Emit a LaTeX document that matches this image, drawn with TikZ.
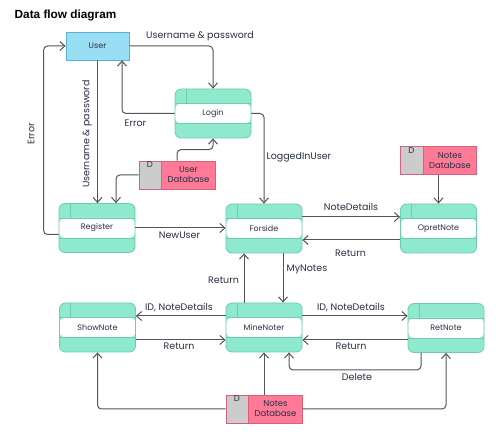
\documentclass[tikz,border=0pt]{standalone}
\usepackage{fontspec}
\setmainfont{Poppins}
\newfontfamily\titlefont{Liberation Sans}
\usetikzlibrary{arrows.meta,calc}
\definecolor{mint}{RGB}{142,233,206}
\definecolor{mintdark}{RGB}{108,205,172}
\definecolor{pinkdb}{RGB}{255,122,150}
\definecolor{pinkdark}{RGB}{214,96,126}
\definecolor{graydb}{RGB}{204,204,204}
\definecolor{userfill}{RGB}{154,222,246}
\definecolor{userdark}{RGB}{88,178,212}
\definecolor{flowcol}{RGB}{85,85,85}
\definecolor{txt}{RGB}{40,48,68}
\tikzset{
  proc/.style={draw=mintdark, fill=mint, rounded corners=6pt, minimum width=76pt,
    minimum height=49pt, inner sep=0pt, line width=0.8pt, text=txt,
    font=\fontsize{8}{9}\selectfont,
    path picture={
      \fill[white] ([yshift=-14.5pt]path picture bounding box.north west) rectangle ([yshift=14.5pt]path picture bounding box.south east);
      \draw[mintdark, line width=0.8pt] ([yshift=-14.5pt]path picture bounding box.north west) -- ([yshift=-14.5pt]path picture bounding box.north east);
      \draw[mintdark, line width=0.8pt] ([yshift=14.5pt]path picture bounding box.south west) -- ([yshift=14.5pt]path picture bounding box.south east);
      \draw[mintdark, line width=0.8pt] ([xshift=11pt]path picture bounding box.north west) -- ([xshift=11pt,yshift=-14.5pt]path picture bounding box.north west);
    }},
  db/.style={draw=pinkdark, fill=pinkdb, minimum width=76pt, minimum height=28pt,
    inner sep=0pt, line width=0.8pt,
    path picture={
      \fill[graydb] (path picture bounding box.north west) rectangle ([xshift=22.5pt]path picture bounding box.south west);
      \draw[pinkdark, line width=0.8pt] ([xshift=22.5pt]path picture bounding box.north west) -- ([xshift=22.5pt]path picture bounding box.south west);
    }},
  dbtext/.style={align=center, text=txt, font=\fontsize{8.5}{10}\selectfont, inner sep=0pt},
  dletter/.style={anchor=north, text=txt, font=\fontsize{8.5}{10}\selectfont, inner sep=1pt},
  ent/.style={draw=userdark, fill=userfill, minimum width=63pt, minimum height=28pt,
    inner sep=0pt, line width=0.8pt, text=txt, font=\fontsize{8}{9}\selectfont},
  flow/.style={draw=flowcol, line width=1pt, rounded corners=4pt,
    -{Straight Barb[length=5pt,width=9pt]}},
  lbl/.style={text=txt, font=\fontsize{9.5}{11}\selectfont, inner sep=0pt},
}
\begin{document}
\begin{tikzpicture}[x=1pt,y=-1pt]
\useasboundingbox[fill=white] (0,0) rectangle (501,438);
\node[anchor=west, inner sep=0pt, font=\titlefont\bfseries\fontsize{11.8}{13}\selectfont, text=black] (title) at (14.5,15) {Data flow diagram};

% nodes
\node[ent] (user) at (97.5,46) {User};
\node[proc] (login) at (213,113.5) {Login};
\node[db, label={[dbtext,xshift=11.5pt]center:User\\Database}, label={[dletter,xshift=11.25pt]north west:D}] (udb) at (177,175) {};
\node[db, label={[dbtext,xshift=11.5pt]center:Notes\\Database}, label={[dletter,xshift=11.25pt]north west:D}] (ndbtop) at (438.5,160.5) {};
\node[proc] (register) at (97,228) {Register};
\node[proc] (forside) at (264,228.5) {Forside};
\node[proc] (opret) at (438.5,228.5) {OpretNote};
\node[proc] (show) at (97.5,327.5) {ShowNote};
\node[proc] (mine) at (264,327.5) {MineNoter};
\node[proc] (ret) at (446,328) {RetNote};
\node[db, label={[dbtext,xshift=11.5pt]center:Notes\\Database}, label={[dletter,xshift=11.25pt]north west:D}] (ndbbot) at (264,409) {};

% connectors
\draw[flow] (user.east) -| (login.north);
\draw[flow] (login.west) -| ([xshift=24.5pt]user.south);
\draw[flow] (user.south) -- (user.south |- register.north);
\draw[flow] ([yshift=-6.5pt]register.west) -- ++(-15,0) |- (user.west);
\draw[flow] (udb.west) -| ([xshift=19pt]register.north);
\draw[flow] (udb.north) -- ++(0,-11) -| (login.south);
\draw[flow] (login.east) -| (forside.north);
\draw[flow] (register.east) -- (register.east -| forside.west);
\draw[flow] ([yshift=11.5pt]forside.east) -- ([yshift=11.5pt]opret.west);
\draw[flow] ([yshift=-11.5pt]opret.west) -- ([yshift=-11.5pt]forside.east);
\draw[flow] (ndbtop.south) -- (opret.north);
\draw[flow] ([xshift=-20pt]mine.north) -- ([xshift=-20pt]forside.south);
\draw[flow] ([xshift=19pt]forside.south) -- ([xshift=19pt]mine.north);
\draw[flow] ([yshift=11.5pt]mine.west) -- ([yshift=11.5pt]show.east);
\draw[flow] ([yshift=-12.5pt]show.east) -- ([yshift=-12.5pt]mine.west);
\draw[flow] ([yshift=11.5pt]mine.east) -- ([yshift=11.5pt]mine.east -| ret.west);
\draw[flow] ([yshift=-12.5pt]mine.east -| ret.west) -- ([yshift=-12.5pt]mine.east);
\draw[flow] ([xshift=-25pt]ret.south) -- ++(0,17) -| ([xshift=25pt]mine.south);
\draw[flow] (ndbbot.west) -| (show.south);
\draw[flow] (ndbbot.east) -| (ret.south);
\draw[flow] (ndbbot.north) -- (mine.south);

% labels
\node[lbl] (l1) at (200,36) {Username \& password};
\node[lbl] (l2) at (135.5,123) {Error};
\node[lbl, rotate=90] (l3) at (87,134) {Username \& password};
\node[lbl, rotate=90] (l4) at (31,134) {Error};
\node[lbl] (l5) at (299,157) {LoggedInUser};
\node[lbl] (l6) at (179.5,235.5) {NewUser};
\node[lbl] (l7) at (351,207) {NoteDetails};
\node[lbl] (l8) at (350.5,253) {Return};
\node[lbl] (l9) at (223.5,280) {Return};
\node[lbl] (l10) at (307,269) {MyNotes};
\node[lbl] (l11) at (179,308) {ID, NoteDetails};
\node[lbl] (l12) at (179,346) {Return};
\node[lbl] (l13) at (351,308) {ID, NoteDetails};
\node[lbl] (l14) at (351,346) {Return};
\node[lbl] (l15) at (357,377) {Delete};
\end{tikzpicture}
\end{document}
